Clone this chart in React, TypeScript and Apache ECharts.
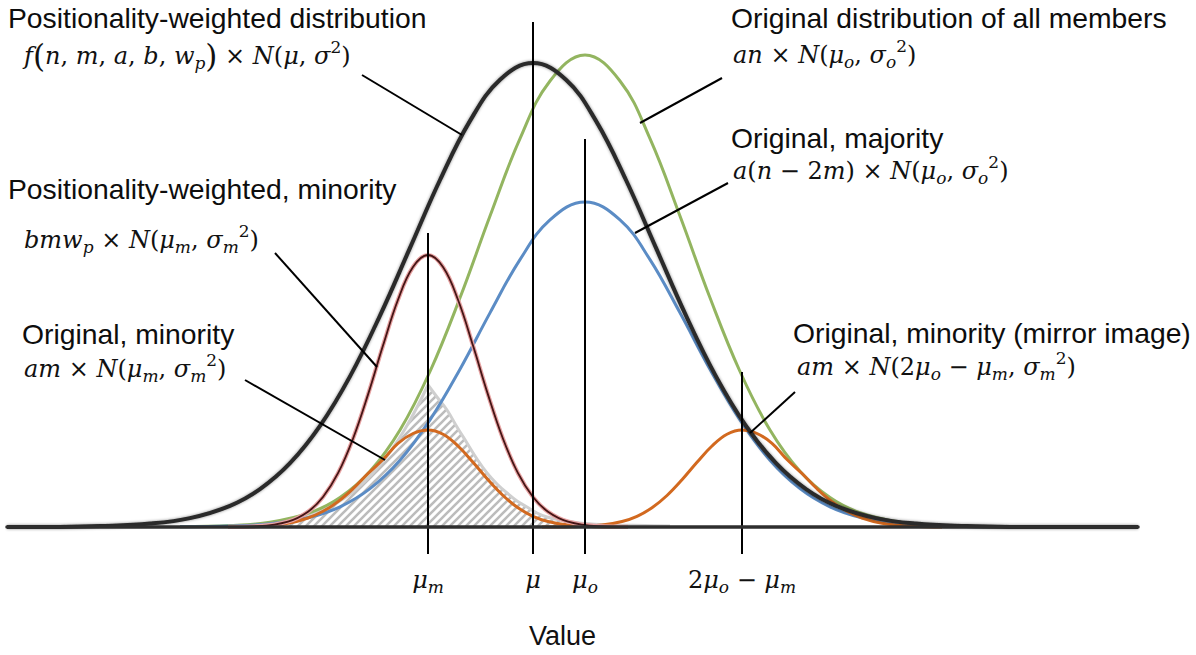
import React, { useEffect, useRef } from 'react';
import * as echarts from 'echarts';

// ---------- data (x in axis units, y = density height in axis units) ----------
const blackX = [7, 60, 100, 150, 190, 230, 260, 290, 320, 350, 380, 410, 440, 470, 500, 533, 566, 596, 626, 656, 686, 716, 746, 776, 806, 836, 876, 916, 966, 1010, 1138];
const blackY = [0, 0.1, 0.9, 3.4, 8.9, 21.2, 37.9, 63.8, 101.1, 150.6, 211.4, 279.1, 347.0, 406.1, 447.3, 464, 447.3, 406.1, 347.0, 279.1, 211.4, 150.6, 101.1, 63.8, 37.9, 21.2, 8.9, 3.4, 0.9, 0.1, 0];

const allX = [180, 230, 270, 310, 340, 370, 400, 430, 460, 490, 520, 550, 585, 620, 650, 680, 710, 740, 770, 800, 830, 860, 900, 940, 990];
const greenY = [0.2, 1.4, 4.8, 14.3, 29.4, 55.7, 97.0, 155.5, 229.2, 311.0, 388.3, 446.0, 472, 446.0, 388.3, 311.0, 229.2, 155.5, 97.0, 55.7, 29.4, 14.3, 4.8, 1.4, 0.2];
const blueY = [0.2, 1.0, 3.3, 9.8, 20.2, 38.4, 66.8, 107.1, 157.8, 214.1, 267.4, 307.1, 325, 307.1, 267.4, 214.1, 157.8, 107.1, 66.8, 38.4, 20.2, 9.8, 3.3, 1.0, 0.2];

const minorX = [228, 258, 288, 308, 323, 338, 353, 368, 383, 398, 413, 428, 443, 458, 473, 488, 503, 518, 533, 548, 568, 598, 628];
const weightedMinorY = [0.1, 0.8, 5.4, 15.3, 30.0, 53.8, 88.3, 132.4, 181.4, 227.2, 260.0, 272, 260.0, 227.2, 181.4, 132.4, 88.3, 53.8, 30.0, 15.3, 5.4, 0.8, 0.1];
const origMinorY = [0.1, 0.8, 3.8, 9.0, 15.7, 25.4, 38.3, 53.5, 67.5, 83.6, 93.5, 97, 92.7, 81.0, 64.7, 47.2, 31.5, 19.2, 10.7, 5.5, 1.9, 0.3, 0];

const mirrorX = [542, 572, 602, 622, 637, 652, 667, 682, 697, 712, 727, 742, 757, 772, 787, 802, 817, 832, 847, 862, 882, 912, 942];
const mirrorY = [0, 0.3, 1.9, 5.5, 10.7, 19.2, 31.5, 47.2, 64.7, 81.0, 92.7, 97, 93.5, 83.6, 67.5, 53.5, 38.3, 25.4, 15.7, 9.0, 3.8, 0.8, 0.1];

const grayLeftX = [230, 260, 290, 320, 350, 380, 405, 428];
const grayLeftY = [1, 3, 7, 16, 33, 62, 98, 142];
const grayRightX = [428, 437, 447, 457, 467, 477, 487, 497, 507, 517, 527, 537, 547, 560, 580, 600, 620, 645, 670];
const grayRightY = [142, 130, 117, 100, 84, 68, 54, 43, 34, 26, 20, 14, 10, 7, 4, 2.5, 2, 1.5, 1];

const markerX = [428, 533, 585, 742];
const markerTop = [294, 505, 388, 155];
const markerLabels = ['{v|μ}{s|m}', '{v|μ}', '{v|μ}{s|o}', '{u|2}{v|μ}{s|o}{u| − }{v|μ}{s|m}'];

const titles = [
  'Positionality-weighted distribution',
  'Original distribution of all members',
  'Original, majority',
  'Positionality-weighted, minority',
  'Original, minority',
  'Original, minority (mirror image)',
];
const formulas = [
  '{v|f}{P|(}{v|n}{u|, }{v|m}{u|, }{v|a}{u|, }{v|b}{u|, }{v|w}{s|p}{P|)}{u| × }{v|N}{u|(}{v|μ}{u|, }{v|σ}{p|2}{u|)}',
  '{v|an}{u| × }{v|N}{u|(}{v|μ}{s|o}{u|, }{v|σ}{s|o}{p|2}{u|)}',
  '{v|a}{u|(}{v|n}{u| − 2}{v|m}{u|) × }{v|N}{u|(}{v|μ}{s|o}{u|, }{v|σ}{s|o}{p|2}{u|)}',
  '{v|bmw}{s|p}{u| × }{v|N}{u|(}{v|μ}{s|m}{u|, }{v|σ}{s|m}{p|2}{u|)}',
  '{v|am}{u| × }{v|N}{u|(}{v|μ}{s|m}{u|, }{v|σ}{s|m}{p|2}{u|)}',
  '{v|am}{u| × }{v|N}{u|(2}{v|μ}{s|o}{u| − }{v|μ}{s|m}{u|, }{v|σ}{s|m}{p|2}{u|)}',
];

// ---------- layout / style ----------
const titlePos = [[8, 18], [731, 18], [731, 138], [8, 189], [22, 334], [793, 333]];
const formulaPos = [[24, 56], [733, 55], [733, 171], [24, 240], [24, 369], [797, 367]];
const leaders = [
  [362, 75, 462, 135],
  [722, 78, 640, 123],
  [728, 183, 635, 233],
  [275, 253, 377, 367],
  [245, 380, 385, 460],
  [795, 392, 750, 433],
];
const TICK_BELOW = 27;

const MATH = '"DejaVu Serif", serif';
const SANS = '"Liberation Sans", Arial, sans-serif';
const rich: any = {
  v: { fontFamily: MATH, fontStyle: 'italic', fontSize: 24, lineHeight: 30, fill: '#111', color: '#111' },
  u: { fontFamily: MATH, fontStyle: 'normal', fontSize: 24, lineHeight: 30, fill: '#111', color: '#111' },
  P: { fontFamily: MATH, fontStyle: 'normal', fontSize: 31, lineHeight: 30, fill: '#111', color: '#111' },
  s: { fontFamily: MATH, fontStyle: 'italic', fontSize: 17, height: 16, lineHeight: 30, verticalAlign: 'bottom', fill: '#111', color: '#111' },
  p: { fontFamily: MATH, fontStyle: 'normal', fontSize: 17, height: 12, lineHeight: 30, verticalAlign: 'top', fill: '#111', color: '#111' },
};

function pairs(xs: number[], ys: number[]) {
  return xs.map((x, i) => [x, ys[i]]);
}

export default function App() {
  const ref = useRef<HTMLDivElement>(null);
  useEffect(() => {
    if (!ref.current) return;
    const chart = echarts.init(ref.current, undefined, { renderer: 'svg' });

    const c = document.createElement('canvas');
    c.width = 8;
    c.height = 8;
    const ctx = c.getContext('2d')!;
    ctx.strokeStyle = '#bcbcbc';
    ctx.lineWidth = 2.6;
    ctx.beginPath();
    ctx.moveTo(-1, 9); ctx.lineTo(9, -1);
    ctx.moveTo(-5, 5); ctx.lineTo(5, -5);
    ctx.moveTo(3, 13); ctx.lineTo(13, 3);
    ctx.stroke();
    const hatch: any = { image: c.toDataURL(), repeat: 'repeat', imageWidth: 8, imageHeight: 8 };

    const curve = (xs: number[], ys: number[], color: string, width: number, extraLine: any = {}, extra: any = {}) => ({
      type: 'line',
      data: pairs(xs, ys),
      smooth: 0.4,
      symbol: 'none',
      clip: false,
      silent: true,
      lineStyle: { color, width, ...extraLine },
      ...extra,
    });

    const series: any[] = [
      curve(grayLeftX, grayLeftY, '#cfcfcf', 3, {}, { areaStyle: { color: hatch, opacity: 1 } }),
      curve(grayRightX, grayRightY, '#cfcfcf', 3, {}, { areaStyle: { color: hatch, opacity: 1 } }),
      curve(allX, greenY, '#93b560', 3),
      curve(allX, blueY, '#5b8cc5', 3),
      curve(minorX, origMinorY, '#d2691f', 3),
      curve(mirrorX, mirrorY, '#d2691f', 3),
      curve(minorX, weightedMinorY, '#e7a3a3', 4.2),
      curve(minorX, weightedMinorY, '#451515', 1.8),
      curve(blackX, blackY, '#2a2a2a', 4, { shadowBlur: 3, shadowColor: 'rgba(0,0,0,0.45)' }),
      ...markerX.map((x, i) => ({
        type: 'line',
        data: [[x, -TICK_BELOW], [x, markerTop[i]]],
        symbol: 'none',
        clip: false,
        silent: true,
        z: 4,
        lineStyle: { color: '#000', width: 2 },
      })),
    ];

    const graphic: any[] = [];
    titles.forEach((t, i) => {
      graphic.push({
        type: 'text', x: titlePos[i][0], y: titlePos[i][1], z: 100, silent: true,
        style: { text: t, fontFamily: SANS, fontSize: 28.3, fill: '#0d0d0d', align: 'left', verticalAlign: 'middle' },
      });
    });
    formulas.forEach((t, i) => {
      graphic.push({
        type: 'text', x: formulaPos[i][0], y: formulaPos[i][1], z: 100, silent: true,
        style: { text: t, rich, fontFamily: MATH, fontSize: 24, lineHeight: 30, fill: '#111', align: 'left', verticalAlign: 'middle' },
      });
    });
    leaders.forEach((l) => {
      graphic.push({
        type: 'line', z: 100, silent: true,
        shape: { x1: l[0], y1: l[1], x2: l[2], y2: l[3] },
        style: { stroke: '#000', lineWidth: 2 },
      });
    });

    chart.setOption({
      animation: false,
      grid: { left: 7, right: 58, top: 0, bottom: 128, outerBoundsMode: 'none', containLabel: false },
      xAxis: {
        type: 'value',
        min: 7,
        max: 1138,
        z: 5,
        axisLine: { show: true, onZero: true, lineStyle: { color: '#2e2e2e', width: 3.5 } },
        axisTick: { show: false },
        splitLine: { show: false },
        axisLabel: {
          customValues: markerX,
          margin: 38,
          rich,
          color: '#111',
          formatter: (v: number) => {
            const i = markerX.indexOf(v);
            return i >= 0 ? markerLabels[i] : '';
          },
        },
        name: 'Value',
        nameLocation: 'middle',
        nameGap: 95,
        nameTextStyle: { fontSize: 27, fontFamily: SANS, color: '#111', padding: [0, 20, 0, 0] },
      },
      yAxis: { type: 'value', min: 0, max: 527, show: false },
      series,
      graphic,
    });
    return () => chart.dispose();
  }, []);
  return (
    <div
      ref={ref}
      style={{ position: 'fixed', left: 0, top: 0, width: 1196, height: 655, background: '#fff' }}
    />
  );
}
